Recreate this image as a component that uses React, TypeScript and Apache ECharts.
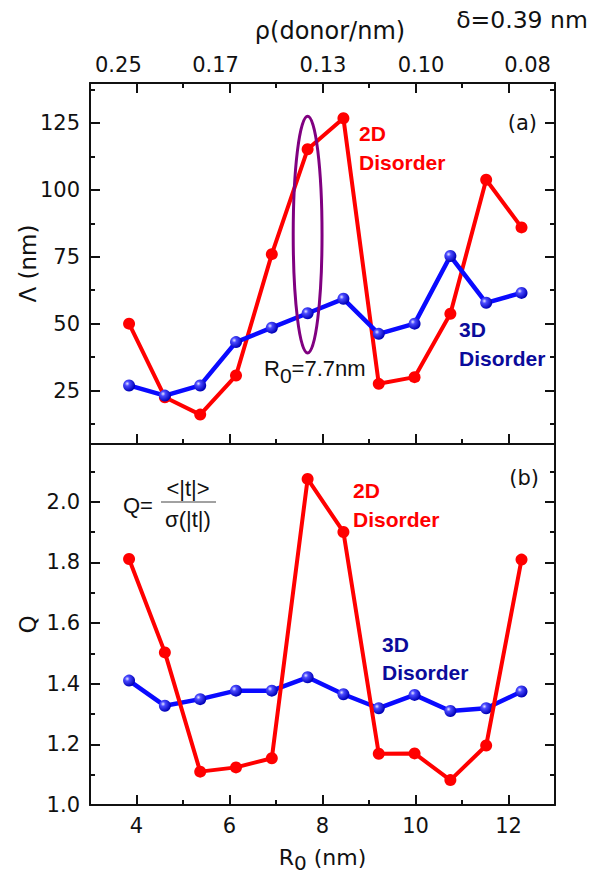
import React, { useEffect, useRef } from 'react';
import * as echarts from 'echarts';

// ---- data ----
const r0 = [3.84, 4.61, 5.37, 6.14, 6.91, 7.68, 8.45, 9.21, 9.98, 10.75, 11.52, 12.28];
const lambda2D = [50, 22.5, 16, 30.6, 76, 115.2, 126.8, 27.5, 30, 53.7, 103.8, 86];
const lambda3D = [26.9, 23.1, 26.9, 43.1, 48.5, 53.9, 59.3, 46.2, 50, 75.3, 57.8, 61.5];
const q2D = [1.811, 1.503, 1.11, 1.124, 1.154, 2.075, 1.9, 1.169, 1.17, 1.082, 1.196, 1.809];
const q3D = [1.41, 1.327, 1.349, 1.377, 1.377, 1.421, 1.365, 1.319, 1.363, 1.31, 1.319, 1.374];

const xMajor = [4, 6, 8, 10, 12];
const xMinor = [5, 7, 9, 11];
const rhoLabels = ['0.25', '0.17', '0.13', '0.10', '0.08'];
const rhoPositions = [3.61, 5.7, 8.01, 10.12, 12.41];
const lambdaMajor = [25, 50, 75, 100, 125];
const lambdaMinor = [12.5, 37.5, 62.5, 87.5, 112.5, 137.5];
const qMajor = [1.0, 1.2, 1.4, 1.6, 1.8, 2.0];
const qMinor = [1.1, 1.3, 1.5, 1.7, 1.9, 2.1];
const ellipseCenter = [7.68, 83.3];
const ellipseHalf = [0.31, 44.3];

const REG = '"DejaVu Sans", sans-serif';
const ARIAL = '"Liberation Sans", Arial, sans-serif';
const RED = '#ff0000';
const BLUE = '#0a0aff';
const NAVY = '#0b0b9b';
const AXIS_COLOR = '#111';

const zip = (xs: number[], ys: number[]) => xs.map((x, i) => [x, ys[i]]);

const blueBall = () =>
  new echarts.graphic.RadialGradient(0.35, 0.35, 0.65, [
    { offset: 0, color: '#e6e6ff' },
    { offset: 0.3, color: '#4a4aff' },
    { offset: 1, color: '#0000b8' },
  ]);

function xAxisDef(grid: number, position: string, ticks: number[], len: number, opts: any = {}) {
  return {
    type: 'value',
    gridIndex: grid,
    position,
    min: 3,
    max: 13,
    splitLine: { show: false },
    axisLine: { show: opts.line !== false, onZero: false, lineStyle: { color: AXIS_COLOR, width: 2 } },
    axisTick: { show: ticks.length > 0, inside: true, length: len, customValues: ticks, lineStyle: { color: AXIS_COLOR, width: 2 } },
    axisLabel: opts.label || { show: false },
    ...(opts.extra || {}),
  };
}

function yAxisDef(grid: number, position: string, min: number, max: number, ticks: number[], len: number, opts: any = {}) {
  return {
    type: 'value',
    gridIndex: grid,
    position,
    min,
    max,
    splitLine: { show: false },
    axisLine: { show: opts.line !== false, onZero: false, lineStyle: { color: AXIS_COLOR, width: 2 } },
    axisTick: { show: true, inside: true, length: len, customValues: ticks, lineStyle: { color: AXIS_COLOR, width: 2 } },
    axisLabel: opts.label || { show: false },
    ...(opts.extra || {}),
  };
}

export default function App() {
  const ref = useRef<HTMLDivElement>(null);

  useEffect(() => {
    document.body.style.margin = '0';
    const chart = echarts.init(ref.current!, null, { renderer: 'svg' });

    const gridA = { left: 90, top: 83, width: 465, height: 361, outerBoundsMode: 'none', containLabel: false };
    const gridB = { left: 90, top: 444, width: 465, height: 361, outerBoundsMode: 'none', containLabel: false };

    const tickLabel = { fontFamily: REG, fontSize: 21, color: '#111' };

    const option: any = {
      animation: false,
      backgroundColor: '#fff',
      grid: [gridA, gridB, gridA, gridB],
      xAxis: [
        xAxisDef(0, 'bottom', xMajor, 10),
        xAxisDef(0, 'top', xMajor, 10, {
          label: {
            show: true,
            margin: 8,
            customValues: rhoPositions,
            formatter: (v: number) => {
              let best = 0;
              rhoPositions.forEach((p, i) => {
                if (Math.abs(p - v) < Math.abs(rhoPositions[best] - v)) best = i;
              });
              return rhoLabels[best];
            },
            ...tickLabel,
          },
        }),
        xAxisDef(1, 'bottom', xMajor, 10, {
          label: { show: true, margin: 10, customValues: xMajor, ...tickLabel },
          extra: {
            name: '{a|R}{s|0}{a| (nm)}',
            nameLocation: 'middle',
            nameGap: 43,
            nameMoveOverlap: false,
            nameTextStyle: {
              rich: {
                a: { fontFamily: REG, fontSize: 22, color: '#111', lineHeight: 18 },
                s: { fontFamily: REG, fontSize: 20, color: '#111', lineHeight: 16, padding: [12, 0, 0, 0] },
              },
            },
          },
        }),
        xAxisDef(1, 'top', [], 0),
        xAxisDef(2, 'bottom', xMinor, 5, { line: false }),
        xAxisDef(2, 'top', xMinor, 5, { line: false }),
        xAxisDef(3, 'bottom', xMinor, 5, { line: false }),
        xAxisDef(3, 'top', [], 0, { line: false }),
      ],
      yAxis: [
        yAxisDef(0, 'left', 5, 140, lambdaMajor, 10, {
          label: { show: true, margin: 10, customValues: lambdaMajor, ...tickLabel },
          extra: {
            name: 'Λ (nm)',
            nameLocation: 'middle',
            nameGap: 51,
            nameMoveOverlap: false,
            nameRotate: 90,
            nameTextStyle: { fontFamily: REG, fontSize: 23, color: '#111' },
          },
        }),
        yAxisDef(0, 'right', 5, 140, lambdaMajor, 10),
        yAxisDef(1, 'left', 1.0, 2.19, qMajor, 10, {
          label: {
            show: true,
            margin: 10,
            customValues: qMajor,
            formatter: (v: number) => v.toFixed(1),
            ...tickLabel,
          },
          extra: {
            name: 'Q',
            nameLocation: 'middle',
            nameGap: 51,
            nameMoveOverlap: false,
            nameRotate: 90,
            nameTextStyle: { fontFamily: REG, fontSize: 23, color: '#111' },
          },
        }),
        yAxisDef(1, 'right', 1.0, 2.19, qMajor, 10),
        yAxisDef(2, 'left', 5, 140, lambdaMinor, 5, { line: false }),
        yAxisDef(2, 'right', 5, 140, lambdaMinor, 5, { line: false }),
        yAxisDef(3, 'left', 1.0, 2.19, qMinor, 5, { line: false }),
        yAxisDef(3, 'right', 1.0, 2.19, qMinor, 5, { line: false }),
      ],
      series: [
        {
          type: 'line',
          name: '2D Λ',
          xAxisIndex: 0,
          yAxisIndex: 0,
          data: zip(r0, lambda2D),
          symbol: 'circle',
          symbolSize: 12,
          lineStyle: { color: RED, width: 4 },
          itemStyle: { color: RED },
          z: 2,
        },
        {
          type: 'line',
          name: '3D Λ',
          xAxisIndex: 0,
          yAxisIndex: 0,
          data: zip(r0, lambda3D),
          symbol: 'circle',
          symbolSize: 12,
          lineStyle: { color: BLUE, width: 4.5 },
          itemStyle: { color: blueBall() },
          z: 3,
        },
        {
          type: 'line',
          name: '3D Q',
          xAxisIndex: 2,
          yAxisIndex: 2,
          data: zip(r0, q3D),
          symbol: 'circle',
          symbolSize: 12,
          lineStyle: { color: BLUE, width: 4.5 },
          itemStyle: { color: blueBall() },
          z: 2,
        },
        {
          type: 'line',
          name: '2D Q',
          xAxisIndex: 2,
          yAxisIndex: 2,
          data: zip(r0, q2D),
          symbol: 'circle',
          symbolSize: 12,
          lineStyle: { color: RED, width: 4 },
          itemStyle: { color: RED },
          z: 3,
        },
        {
          type: 'custom',
          xAxisIndex: 0,
          yAxisIndex: 0,
          silent: true,
          z: 5,
          data: [ellipseCenter],
          renderItem: (_p: any, api: any) => {
            const c = api.coord([api.value(0), api.value(1)]);
            const s = api.size(ellipseHalf);
            return {
              type: 'ellipse',
              shape: { cx: c[0], cy: c[1], rx: s[0], ry: s[1] },
              style: { fill: 'none', stroke: '#800080', lineWidth: 3 },
            };
          },
        },
      ],
      graphic: [
        { type: 'text', x: 330, y: 31, style: { text: 'ρ(donor/nm)', fontFamily: REG, fontSize: 24, fill: '#111', align: 'center', verticalAlign: 'middle' } },
        { type: 'text', x: 522, y: 20, style: { text: 'δ=0.39 nm', fontFamily: REG, fontSize: 23.5, fill: '#111', align: 'center', verticalAlign: 'middle' } },
        { type: 'text', x: 537, y: 123, style: { text: '(a)', fontFamily: REG, fontSize: 21, fill: '#111', align: 'right', verticalAlign: 'middle' } },
        { type: 'text', x: 539, y: 478, style: { text: '(b)', fontFamily: REG, fontSize: 21, fill: '#111', align: 'right', verticalAlign: 'middle' } },
        { type: 'text', x: 359, y: 133, style: { text: '2D', fontFamily: ARIAL, fontWeight: 'bold', fontSize: 21, fill: RED, align: 'left', verticalAlign: 'middle' } },
        { type: 'text', x: 359, y: 162, style: { text: 'Disorder', fontFamily: ARIAL, fontWeight: 'bold', fontSize: 21, fill: RED, align: 'left', verticalAlign: 'middle' } },
        { type: 'text', x: 459, y: 329, style: { text: '3D', fontFamily: ARIAL, fontWeight: 'bold', fontSize: 21, fill: NAVY, align: 'left', verticalAlign: 'middle' } },
        { type: 'text', x: 459, y: 358, style: { text: 'Disorder', fontFamily: ARIAL, fontWeight: 'bold', fontSize: 21, fill: NAVY, align: 'left', verticalAlign: 'middle' } },
        { type: 'text', x: 353, y: 490, style: { text: '2D', fontFamily: ARIAL, fontWeight: 'bold', fontSize: 21, fill: RED, align: 'left', verticalAlign: 'middle' } },
        { type: 'text', x: 353, y: 519, style: { text: 'Disorder', fontFamily: ARIAL, fontWeight: 'bold', fontSize: 21, fill: RED, align: 'left', verticalAlign: 'middle' } },
        { type: 'text', x: 382, y: 644, style: { text: '3D', fontFamily: ARIAL, fontWeight: 'bold', fontSize: 21, fill: NAVY, align: 'left', verticalAlign: 'middle' } },
        { type: 'text', x: 382, y: 672, style: { text: 'Disorder', fontFamily: ARIAL, fontWeight: 'bold', fontSize: 21, fill: NAVY, align: 'left', verticalAlign: 'middle' } },
        {
          type: 'text',
          x: 264,
          y: 368,
          style: {
            text: '{a|R}{s|0}{a|=7.7nm}',
            align: 'left',
            verticalAlign: 'middle',
            rich: {
              a: { fontFamily: ARIAL, fontSize: 22, fill: '#111', lineHeight: 25 },
              s: { fontFamily: ARIAL, fontSize: 21, fill: '#111', lineHeight: 23, padding: [15, 0, 0, 0] },
            },
          },
        },
        { type: 'text', x: 123, y: 505, style: { text: 'Q=', fontFamily: ARIAL, fontSize: 22, fill: '#111', align: 'left', verticalAlign: 'middle' } },
        { type: 'text', x: 188, y: 488, style: { text: '<|t|>', fontFamily: ARIAL, fontSize: 22, fill: '#111', align: 'center', verticalAlign: 'middle' } },
        { type: 'line', shape: { x1: 161, y1: 502, x2: 216, y2: 502 }, style: { stroke: '#444', lineWidth: 1 } },
        { type: 'text', x: 188, y: 519, style: { text: 'σ(|t|)', fontFamily: ARIAL, fontSize: 22, fill: '#111', align: 'center', verticalAlign: 'middle' } },
      ],
    };

    chart.setOption(option);
    return () => chart.dispose();
  }, []);

  return <div ref={ref} style={{ width: 601, height: 877 }} />;
}
